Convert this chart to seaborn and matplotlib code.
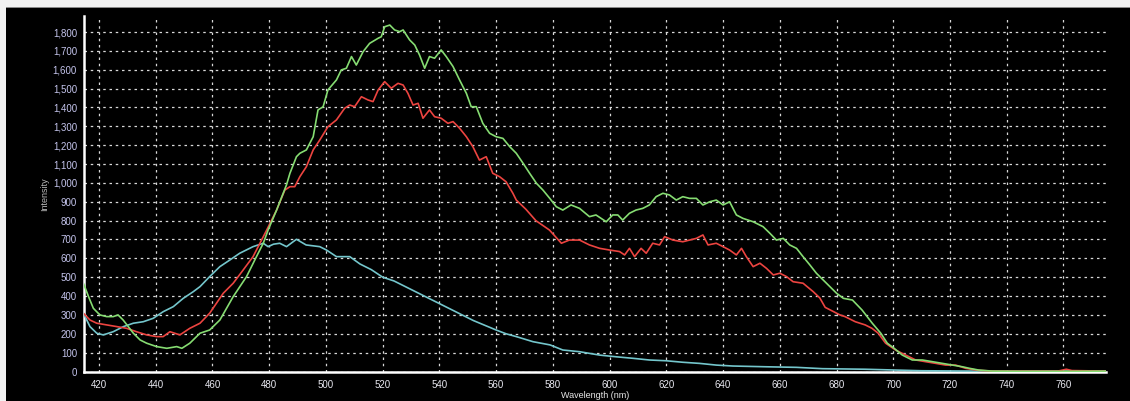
import matplotlib
matplotlib.use("Agg")
import matplotlib.pyplot as plt
from matplotlib.ticker import MultipleLocator, AutoMinorLocator, FuncFormatter
from matplotlib.patches import Rectangle
import seaborn as sns
import pandas as pd

# ---------------- data ----------------
green_wl = [414.5, 416.3, 418.0, 420.3, 422.7, 425.0, 426.7, 428.5, 430.3, 432.1, 434.5, 436.8,
            440.3, 443.9, 447.4, 449.2, 452.0, 454.4, 455.6, 459.0, 462.6, 467.3, 472.0, 475.5,
            477.9, 479.6, 482.6, 484.9, 486.1, 487.3, 489.6, 490.8, 493.1, 495.5, 497.2, 499.0,
            500.7, 503.7, 505.4, 507.2, 509.0, 510.7, 513.1, 515.4, 518.4, 519.5, 520.7, 522.5,
            524.2, 526.0, 527.2, 529.5, 531.3, 533.0, 534.8, 536.5, 538.3, 540.6, 542.4, 544.8,
            547.1, 549.5, 551.2, 553.0, 555.3, 557.7, 560.0, 562.4, 564.8, 567.1, 569.5, 571.8,
            574.2, 576.5, 578.9, 581.2, 583.5, 586.4, 589.4, 592.9, 595.2, 598.8, 601.1, 602.9,
            604.6, 607.0, 609.3, 611.7, 614.0, 616.4, 618.8, 621.1, 623.5, 625.8, 628.2, 630.6,
            632.9, 635.3, 637.6, 640.0, 642.3, 644.7, 647.0, 650.6, 654.1, 656.5, 658.8, 661.2,
            663.5, 665.9, 668.2, 670.6, 672.9, 675.3, 677.6, 680.0, 682.4, 685.6, 689.0, 692.6,
            695.6, 697.9, 700.3, 703.2, 706.7, 710.3, 713.8, 717.3, 720.9, 724.4, 726.8, 730.0,
            735.0, 745.0, 760.0, 775.0]
green_val = [468, 397, 335, 300, 291, 291, 300, 273, 238, 203, 167, 150,
             132, 123, 132, 123, 150, 185, 203, 220, 273, 397, 503, 609,
             680, 750, 856, 945, 990, 1051, 1139, 1157, 1175, 1245, 1387, 1404,
             1493, 1546, 1599, 1608, 1670, 1625, 1696, 1740, 1767, 1775, 1828, 1837,
             1811, 1802, 1811, 1758, 1731, 1678, 1608, 1670, 1661, 1705, 1670, 1617,
             1546, 1475, 1404, 1404, 1316, 1263, 1245, 1236, 1192, 1157, 1104, 1051,
             998, 962, 918, 874, 856, 883, 865, 821, 830, 794, 830, 830,
             803, 839, 856, 865, 883, 927, 945, 936, 909, 927, 918, 918,
             883, 900, 909, 883, 900, 830, 812, 794, 768, 733, 697, 706,
             671, 653, 609, 565, 521, 485, 450, 415, 388, 379, 326, 256,
             203, 150, 123, 87, 61, 61, 52, 43, 34, 25, 17, 8,
             2, 1, 1, 2]

red_wl = [414.5, 416.8, 419.2, 422.7, 426.3, 429.7, 433.2, 436.8, 440.3, 442.6, 445.0, 448.5,
          452.0, 455.6, 459.0, 463.8, 467.3, 470.8, 474.3, 477.3, 479.1, 482.6, 485.5, 487.3,
          489.0, 490.8, 493.1, 495.5, 497.8, 500.7, 503.7, 506.6, 508.4, 510.1, 512.5, 514.8,
          516.6, 518.4, 520.7, 523.0, 525.4, 527.2, 528.9, 530.7, 532.5, 534.2, 536.5, 538.3,
          540.6, 543.0, 544.8, 547.1, 549.5, 551.8, 554.1, 556.5, 558.8, 561.2, 563.5, 565.9,
          567.1, 570.5, 574.0, 578.8, 580.6, 583.0, 585.8, 589.4, 592.9, 596.5, 600.0, 603.5,
          605.3, 607.0, 608.8, 611.1, 612.9, 615.2, 617.6, 619.4, 622.3, 625.8, 628.2, 630.6,
          632.9, 634.7, 637.6, 640.0, 642.3, 644.7, 646.5, 648.2, 650.6, 653.0, 655.3, 657.7,
          660.0, 662.4, 664.7, 668.2, 671.8, 674.1, 676.0, 679.0, 681.2, 683.0, 686.6, 690.1,
          692.5, 694.7, 697.3, 700.8, 704.4, 707.9, 711.4, 715.0, 718.5, 722.0, 725.5, 730.0,
          735.0, 758.0, 761.0, 763.0, 775.0]
red_val = [309, 273, 256, 247, 238, 229, 211, 194, 185, 185, 211, 194,
           229, 256, 309, 415, 468, 538, 609, 697, 750, 856, 962, 980,
           980, 1033, 1086, 1175, 1227, 1298, 1334, 1396, 1413, 1404, 1457, 1440,
           1431, 1493, 1537, 1502, 1528, 1519, 1475, 1413, 1422, 1343, 1387, 1351,
           1343, 1316, 1325, 1290, 1245, 1192, 1121, 1139, 1051, 1033, 1006, 945,
           909, 860, 800, 750, 720, 680, 697, 697, 671, 653, 644, 636,
           618, 653, 609, 653, 627, 680, 671, 715, 697, 688, 697, 706,
           724, 671, 680, 662, 644, 618, 653, 609, 556, 574, 547, 512,
           521, 503, 476, 468, 423, 390, 340, 317, 300, 291, 264, 247,
           229, 203, 150, 114, 87, 61, 52, 43, 34, 34, 17, 6,
           2, 2, 12, 5, 2]

cyan_wl = [414.5, 416.8, 419.2, 421.5, 425.0, 428.6, 432.1, 435.6, 439.1, 442.6, 446.2, 449.7,
           453.2, 455.6, 459.0, 462.6, 466.1, 469.6, 474.3, 477.9, 479.6, 481.5, 483.7, 486.1,
           489.6, 493.0, 497.8, 500.2, 503.7, 508.4, 512.0, 516.0, 520.0, 524.0, 528.0, 532.0,
           536.0, 540.0, 544.0, 548.0, 552.0, 556.0, 560.0, 563.5, 567.1, 573.0, 579.0, 583.5,
           589.4, 596.5, 602.3, 608.2, 614.0, 619.9, 625.8, 631.7, 637.6, 643.5, 655.3, 665.9,
           675.0, 690.0, 700.0, 710.0, 730.0, 775.0]
cyan_val = [309, 238, 203, 194, 211, 238, 256, 264, 282, 317, 344, 388,
            423, 450, 503, 556, 591, 627, 662, 680, 662, 675, 680, 662,
            701, 671, 662, 644, 609, 609, 570, 540, 500, 480, 450, 420,
            390, 360, 330, 300, 270, 245, 220, 200, 185, 158, 141, 114,
            105, 87, 78, 70, 61, 57, 49, 43, 34, 29, 25, 22,
            15, 12, 8, 4, 2, 2]

x_ticks = list(range(420, 761, 20))
y_ticks = list(range(0, 1801, 100))

# ---------------- style ----------------
sns.set_style("dark")
plt.rcParams["font.family"] = ["Liberation Sans", "DejaVu Sans"]

fig = plt.figure(figsize=(11.30, 4.01), dpi=100, facecolor="black")
# screenshot frame: light strips along the top and left edges
fig.patches.append(Rectangle((0, 1 - 7 / 401), 1, 7 / 401, transform=fig.transFigure,
                             facecolor="#f2f2f2", edgecolor="none", zorder=-1))
fig.patches.append(Rectangle((0, 1 - 8 / 401), 1, 1 / 401, transform=fig.transFigure,
                             facecolor="#8a8a8a", edgecolor="none", zorder=-1))
fig.patches.append(Rectangle((0, 0), 6 / 1130, 1, transform=fig.transFigure,
                             facecolor="#f2f2f2", edgecolor="none", zorder=-1))

ax = fig.add_axes([84 / 1130, 1 - 371.5 / 401, (1106 - 84) / 1130, (371.5 - 16) / 401])
ax.set_facecolor("black")

series = [
    (cyan_wl, cyan_val, "#74c6cc"),
    (red_wl, red_val, "#ec4440"),
    (green_wl, green_val, "#86dc72"),
]
for wl, val, col in series:
    df = pd.DataFrame({"wl": wl, "val": val})
    sns.lineplot(data=df, x="wl", y="val", ax=ax, color=col, linewidth=1.2,
                 estimator=None, sort=False, zorder=3)

ax.xaxis.set_minor_locator(AutoMinorLocator(6))
ax.yaxis.set_minor_locator(AutoMinorLocator(2))
ax.yaxis.set_major_formatter(FuncFormatter(lambda v, p: f"{int(v):,}"))
ax.set_xticks(x_ticks)
ax.set_yticks(y_ticks)
ax.set_ylim(0, 1885)
ax.set_xlim(414.7, 775)

ax.grid(True, which="major", color="#d8d8d8", linestyle=(0, (2, 3)), linewidth=0.9)
for s in ["top", "right"]:
    ax.spines[s].set_visible(False)
for s in ["left", "bottom"]:
    ax.spines[s].set_visible(True)
    ax.spines[s].set_color("white")
    ax.spines[s].set_linewidth(1.8)

ax.tick_params(axis="x", which="major", colors="white", length=3, width=1, pad=3,
               labelsize=7, labelcolor="#e8e8f0")
ax.tick_params(axis="x", which="minor", colors="white", length=2, width=0.8)
ax.tick_params(axis="y", which="major", colors="white", length=3, width=1, pad=2,
               labelsize=7, labelcolor="#c4c4ec")
ax.tick_params(axis="y", which="minor", colors="white", length=1.5, width=0.8)

ax.set_xlabel("Wavelength (nm)", color="#e8e8e8", fontsize=6.5, labelpad=1)
ax.set_ylabel("Intensity", color="#b8b8b8", fontsize=6.5, labelpad=3)

fig.savefig("out.png", dpi=100, facecolor=fig.get_facecolor())
